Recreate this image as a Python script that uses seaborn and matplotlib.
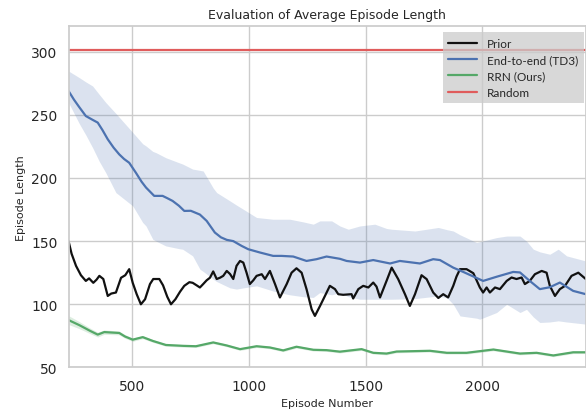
import numpy as np
import pandas as pd
import matplotlib
matplotlib.use("Agg")
import matplotlib.pyplot as plt
import seaborn as sns

# values
prior_x = [227, 240, 259, 280, 301, 315, 333, 347, 359, 376, 395, 410, 430, 452, 470, 487,
           502, 519, 537, 555, 576, 590, 616, 632, 650, 666, 685, 705, 723, 745, 759, 776,
           790, 804, 819, 833, 847, 862, 876, 890, 905, 919, 933, 947, 962, 976, 990, 1004,
           1019, 1033, 1055, 1069, 1090, 1112, 1133, 1162, 1183, 1204, 1226, 1247, 1269, 1283,
           1305, 1326, 1347, 1369, 1383, 1404, 1440, 1447, 1469, 1490, 1512, 1533, 1547, 1562,
           1590, 1612, 1640, 1669, 1690, 1712, 1740, 1762, 1790, 1812, 1833, 1854, 1876, 1890,
           1905, 1933, 1962, 1976, 1990, 2004, 2019, 2033, 2055, 2076, 2105, 2126, 2147, 2169,
           2183, 2204, 2226, 2255, 2276, 2290, 2312, 2333, 2355, 2383, 2412, 2444]
prior_y = [150, 140, 130.4, 123, 118.5, 120.5, 117, 119.5, 122.5, 120, 106.6, 108.5, 109.3,
           121, 123, 127.8, 117, 108, 100, 104, 116, 120, 120, 115, 106, 100, 104, 110, 114.6,
           117.5, 117, 115, 113.3, 116, 119, 121, 126, 120, 121, 122.5, 126.4, 124, 120, 130.4,
           134.3, 133, 125, 116, 119, 122.5, 123.8, 120, 126.4, 116, 105.4, 116, 125, 128.5,
           125, 112, 96, 90.8, 98.7, 106.6, 114.6, 112, 108, 107.5, 108, 104.6, 112, 114.6,
           113.3, 117.2, 114, 105.4, 118.5, 129, 119.9, 108, 98.7, 108, 123, 119.9, 109.3, 105,
           108, 105.4, 114.6, 122, 127.8, 127.8, 124.6, 119, 113.3, 109.3, 113.3, 109.3, 113.3,
           112, 118.5, 121.2, 120, 121.2, 116, 118.5, 123.8, 126.4, 125, 114.6, 106.6, 112,
           114.6, 122.5, 125, 120]

td3_x = [227, 250, 273, 301, 330, 352, 372, 395, 420, 444, 465, 487, 516, 540, 559, 594, 630,
         650, 673, 700, 723, 751, 790, 819, 854, 880, 905, 933, 969, 997, 1047, 1104, 1140,
         1190, 1247, 1290, 1333, 1390, 1419, 1476, 1533, 1605, 1647, 1733, 1790, 1819, 1876,
         1919, 1962, 2004, 2062, 2133, 2162, 2204, 2247, 2290, 2333, 2390, 2444]
td3_y = [268.8, 262, 256, 249, 246, 243.8, 238, 230.6, 224, 218.7, 215, 212, 204, 197, 192.4,
         185.8, 185.8, 184, 181.8, 178, 173.9, 174, 171, 166, 156.8, 153, 151, 150, 146.2,
         143.6, 141, 138.3, 138.3, 137.8, 134.3, 135.7, 137.8, 136, 134.3, 133, 135, 132.3,
         134.3, 132.3, 135.7, 135, 129, 125.6, 122, 118.5, 121.8, 125.6, 125.2, 118.5, 112,
         113.5, 117.2, 110.6, 108]

band_x = [227, 273, 301, 330, 359, 387, 430, 502, 545, 559, 588, 602, 644, 701, 716, 759,
          790, 804, 833, 847, 862, 919, 947, 976, 1033, 1104, 1162, 1176, 1233, 1276, 1304, 1355,
          1390, 1426, 1476, 1540, 1590, 1612, 1712, 1812, 1850, 1876, 1905, 1976, 1990, 2062,
          2105, 2162, 2190, 2219, 2247, 2290, 2326, 2362, 2444]
td3_hi = [284.6, 279.4, 276, 272.8, 266, 259.6, 251, 236, 227, 225.3, 221, 220, 216, 212,
          211, 207, 206, 205.5, 196.4, 192, 188.4, 181.8, 178.5, 175.2, 168.7, 167.3, 167.3,
          167.3, 165.2, 163.4, 166, 166, 162, 159.4, 162, 163.4, 160, 159.4, 158, 160.8, 159,
          158, 155, 148.9, 149.5, 152.8, 154, 154, 150, 143.6, 141.5, 139.6, 143.6, 138.3, 134.3]
td3_lo = [259.6, 243, 234, 224, 213, 204, 188.4, 177.9, 164.7, 162, 151.5, 150, 146.2, 144,
          143.6, 138.3, 127.8, 126, 122, 119.9, 118, 113, 112, 113, 114.6, 110.5, 108, 107.5,
          106, 105.4, 109.3, 107.5, 109.3, 106, 104, 104, 104, 104, 104.5, 106.6, 105, 100,
          90.8, 89, 88.2, 93.5, 100, 93.5, 96, 90, 85.6, 86, 86.9, 86, 84.3]

rrn_x = [227, 273, 319, 352, 380, 444, 469, 502, 545, 588, 644, 719, 773, 847, 905, 962, 1033,
         1090, 1147, 1204, 1276, 1333, 1390, 1483, 1533, 1590, 1633, 1776, 1848, 1933, 2048,
         2162, 2233, 2305, 2390, 2444]
rrn_y = [87.5, 83.5, 79, 76, 78, 77.3, 74.5, 72, 74, 71, 67.8, 67.1, 66.8, 69.8, 67.4, 64.5,
         66.8, 65.8, 63.5, 66.4, 64, 63.7, 62.5, 64.5, 61.6, 61, 62.6, 63.2, 61.6, 61.6, 64.2,
         61, 61.6, 59.5, 62, 62]
rrn_err = [3.5, 2.8, 2.2, 1.9, 1.7, 1.5, 1.4, 1.3, 1.2, 1.1, 1, 1, 1, 1, 1, 1, 1, 1, 1, 1, 1, 1,
           1, 1, 1, 1, 1, 1, 1, 1, 1, 1, 1, 1, 1, 1]

random_y = 301

blue = "#4c72b0"
green = "#55a868"
red = "#e05c5c"

sns.set_theme(style="whitegrid")
plt.rcParams["font.family"] = ["DejaVu Sans"]

fig = plt.figure(figsize=(5.86, 4.14), dpi=100)
ax = fig.add_axes([0.117, 0.110, 0.883, 0.824])

prior = pd.DataFrame({"episode": prior_x, "length": prior_y})
td3 = pd.DataFrame({"episode": td3_x, "length": td3_y})
rrn = pd.DataFrame({"episode": rrn_x, "length": rrn_y})

ax.fill_between(band_x, td3_lo, td3_hi, color=blue, alpha=0.2, lw=0)
ax.fill_between(rrn_x, np.array(rrn_y) - np.array(rrn_err), np.array(rrn_y) + np.array(rrn_err),
                color=green, alpha=0.2, lw=0)

sns.lineplot(data=prior, x="episode", y="length", color="#111111", lw=1.6, ax=ax, label="Prior")
sns.lineplot(data=td3, x="episode", y="length", color=blue, lw=1.6, ax=ax, label="End-to-end (TD3)")
sns.lineplot(data=rrn, x="episode", y="length", color=green, lw=1.6, ax=ax, label="RRN (Ours)")
ax.axhline(random_y, color=red, lw=1.6, label="Random")

ax.set_xlim(227, 2445)
ax.set_ylim(50, 320)
ax.set_xticks([500, 1000, 1500, 2000])
ax.set_yticks([50, 100, 150, 200, 250, 300])
ax.tick_params(labelsize=10, pad=2)
ax.set_title("Evaluation of Average Episode Length", fontsize=9, pad=6)
ax.set_xlabel("Episode Number", fontsize=8)
ax.set_ylabel("Episode Length", fontsize=8)

leg = ax.legend(loc="upper right", bbox_to_anchor=(0.996, 0.982), borderaxespad=0,
                prop={"family": ["Lato", "DejaVu Sans"], "size": 8.5},
                frameon=True, fancybox=False, facecolor="#cbcbcb", framealpha=0.75,
                edgecolor="none", borderpad=0.45, handlelength=2.4, handletextpad=0.9,
                labelspacing=0.45)

fig.savefig("out.png", dpi=100)
